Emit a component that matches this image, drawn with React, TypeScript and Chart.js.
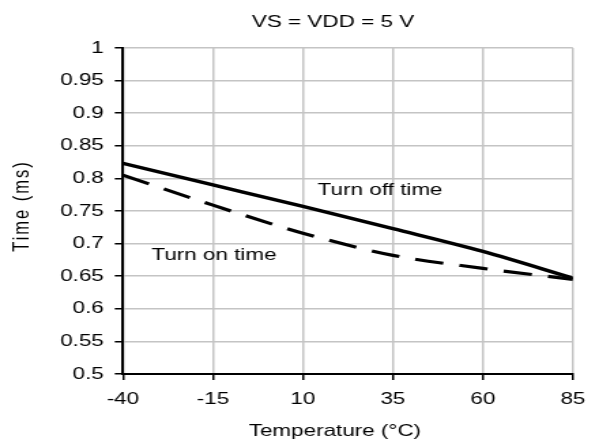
import React, { useEffect, useRef } from "react";
import { Chart, registerables } from "chart.js";

Chart.register(...registerables);

// ---- data ----
const temperatures = [-40, -15, 10, 35, 60, 85];
const turnOffTime = [0.823, 0.79, 0.757, 0.723, 0.688, 0.647];
const turnOnTime = [0.805, 0.759, 0.716, 0.682, 0.662, 0.645];
const xTickValues = [-40, -15, 10, 35, 60, 85];
const yTickValues = [0.5, 0.55, 0.6, 0.65, 0.7, 0.75, 0.8, 0.85, 0.9, 0.95, 1];
const yTickLabels = ["0.5", "0.55", "0.6", "0.65", "0.7", "0.75", "0.8", "0.85", "0.9", "0.95", "1"];
const seriesNames = ["Turn off time", "Turn on time"];
const seriesLabelTemps = [14.1, -32.1];
const seriesLabelTimes = [0.781, 0.682];
const chartTitle = "VS = VDD = 5 V";
const xAxisTitle = "Temperature (°C)";
const yAxisTitle = "Time (ms)";

// ---- layout (internal canvas px; canvas is stretched horizontally by CSS) ----
const CANVAS_W = 440;
const CANVAS_H = 443;
const DISPLAY_W = 599;
const PLOT_LEFT = 90.3;
const PLOT_RIGHT = 424.6;
const PLOT_TOP = 48;
const PLOT_BOTTOM = 374;
const FONT_SIZE = 16.5;
const FONT_FAMILY = '"Liberation Sans", Arial, Helvetica, sans-serif';

const textPlugin = {
  id: "customTexts",
  afterDraw(chart: any) {
    const ctx = chart.ctx as CanvasRenderingContext2D;
    const xs = chart.scales.x;
    const ys = chart.scales.y;
    ctx.save();
    ctx.fillStyle = "#000";
    ctx.font = `${FONT_SIZE}px ${FONT_FAMILY}`;
    ctx.textBaseline = "middle";
    ctx.textAlign = "left";
    seriesNames.forEach((name, i) => {
      ctx.fillText(
        name,
        xs.getPixelForValue(seriesLabelTemps[i]),
        ys.getPixelForValue(seriesLabelTimes[i])
      );
    });
    ctx.textAlign = "center";
    ctx.fillText(chartTitle, 244.6, 22);
    ctx.fillText(xAxisTitle, 246, 431);
    ctx.translate(16.9, 206);
    ctx.rotate(-Math.PI / 2);
    try {
      (ctx as any).letterSpacing = "2px";
    } catch (e) {}
    ctx.fillText(yAxisTitle, 0, 0);
    ctx.restore();
  },
};

export default function App() {
  const canvasRef = useRef<HTMLCanvasElement | null>(null);

  useEffect(() => {
    const canvas = canvasRef.current;
    if (!canvas) return;
    const chart = new Chart(canvas, {
      type: "line",
      data: {
        datasets: [
          {
            label: seriesNames[0],
            data: temperatures.map((t, i) => ({ x: t, y: turnOffTime[i] })),
            borderColor: "#000",
            borderWidth: 3.4,
            pointRadius: 0,
            cubicInterpolationMode: "monotone",
            fill: false,
          },
          {
            label: seriesNames[1],
            data: temperatures.map((t, i) => ({ x: t, y: turnOnTime[i] })),
            borderColor: "#000",
            borderWidth: 3.2,
            borderDash: [21, 12],
            pointRadius: 0,
            cubicInterpolationMode: "monotone",
            fill: false,
          },
        ],
      },
      options: {
        animation: false,
        responsive: false,
        devicePixelRatio: 1,
        events: [],
        layout: {
          padding: {
            top: PLOT_TOP,
            right: CANVAS_W - PLOT_RIGHT,
            left: 0,
            bottom: 0,
          },
        },
        plugins: {
          legend: { display: false },
          tooltip: { enabled: false },
          title: { display: false },
        },
        scales: {
          x: {
            type: "linear",
            position: "bottom",
            min: xTickValues[0],
            max: xTickValues[xTickValues.length - 1],
            afterBuildTicks: (s: any) => {
              s.ticks = xTickValues.map((v) => ({ value: v }));
            },
            afterFit: (s: any) => {
              s.height = CANVAS_H - PLOT_BOTTOM;
            },
            grid: {
              color: "#c4c4c4",
              lineWidth: 1.5,
              tickLength: 6,
              tickColor: "#000",
              tickWidth: 1.5,
            },
            border: { display: true, color: "#000", width: 2 },
            ticks: {
              color: "#000",
              padding: 10,
              maxRotation: 0,
              autoSkip: false,
              font: { family: FONT_FAMILY, size: FONT_SIZE },
              callback: (v: any) => String(v),
            },
          },
          y: {
            type: "linear",
            position: "left",
            min: yTickValues[0],
            max: yTickValues[yTickValues.length - 1],
            afterBuildTicks: (s: any) => {
              s.ticks = yTickValues.map((v) => ({ value: v }));
            },
            afterFit: (s: any) => {
              s.width = PLOT_LEFT;
            },
            grid: {
              color: "#c4c4c4",
              lineWidth: 1.5,
              tickLength: 6,
              tickColor: "#000",
              tickWidth: 1.5,
            },
            border: { display: true, color: "#000", width: 2 },
            ticks: {
              color: "#000",
              padding: 8,
              autoSkip: false,
              font: { family: FONT_FAMILY, size: FONT_SIZE },
              callback: (_v: any, i: number) => yTickLabels[i],
            },
          },
        },
      },
      plugins: [textPlugin],
    } as any);
    return () => chart.destroy();
  }, []);

  return (
    <div style={{ position: "absolute", left: 0, top: 0, width: DISPLAY_W, height: CANVAS_H, background: "#fff" }}>
      <canvas
        ref={canvasRef}
        width={CANVAS_W}
        height={CANVAS_H}
        style={{ width: `${DISPLAY_W}px`, height: `${CANVAS_H}px`, display: "block" }}
      />
    </div>
  );
}
